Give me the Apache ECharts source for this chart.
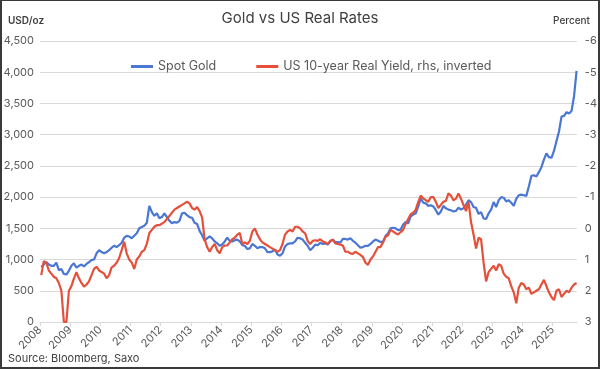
<!DOCTYPE html>
<html>
<head>
<meta charset="utf-8">
<script src="https://cdn.jsdelivr.net/npm/echarts@6/dist/echarts.min.js"></script>
<style>
html,body{margin:0;padding:0;background:#fff;}
#wrap{position:relative;width:600px;height:369px;}
#chart{position:absolute;left:0;top:0;width:600px;height:369px;}
#frame{position:absolute;left:0;top:0;width:600px;height:369px;box-sizing:border-box;border:2px solid #3a3a3a;border-top-width:1px;pointer-events:none;}
</style>
</head>
<body>
<div id="wrap"><div id="chart"></div><div id="frame"></div></div>
<script>
// ---- data (monthly, Jan 2008 .. Oct 2025) ----
const startYear = 2008;
const yearTicks = [2008,2009,2010,2011,2012,2013,2014,2015,2016,2017,2018,2019,2020,2021,2022,2023,2024,2025];
const goldUsdOz = [
  880,920,960,920,900,900,950,830,850,770,760,820,
  900,940,870,900,920,890,930,960,990,1000,1100,1150,
  1120,1100,1120,1150,1190,1220,1200,1230,1270,1350,1380,1370,
  1340,1380,1420,1500,1520,1540,1590,1860,1760,1700,1740,1660,
  1680,1740,1680,1620,1580,1600,1590,1620,1740,1750,1710,1680,
  1670,1590,1570,1460,1390,1300,1340,1370,1340,1290,1260,1220,
  1240,1290,1350,1300,1290,1310,1320,1290,1230,1220,1170,1180,
  1250,1220,1180,1200,1200,1180,1120,1120,1130,1160,1080,1060,
  1100,1210,1250,1260,1260,1290,1350,1340,1320,1270,1220,1150,
  1190,1240,1230,1270,1250,1260,1240,1290,1320,1280,1280,1270,
  1330,1330,1320,1340,1300,1270,1230,1190,1200,1220,1220,1250,
  1290,1320,1300,1280,1290,1380,1420,1500,1510,1500,1470,1480,
  1560,1600,1580,1690,1720,1740,1850,1980,1910,1900,1860,1870,
  1850,1790,1720,1770,1860,1820,1800,1790,1770,1780,1830,1800,
  1820,1880,1950,1920,1840,1830,1730,1760,1660,1650,1740,1800,
  1920,1840,1950,2000,1990,1930,1950,1910,1860,1970,2030,2040,
  2030,2020,2170,2340,2350,2330,2400,2480,2600,2700,2640,2630,
  2740,2900,3050,3290,3300,3360,3340,3380,3620,4020
];
const realYield10y = [
  1.5,1.05,1.1,1.35,1.45,1.55,1.6,1.75,2.0,3.0,3.0,2.0,
  1.85,1.6,1.4,1.6,1.75,1.87,1.8,1.7,1.5,1.3,1.23,1.35,
  1.4,1.45,1.6,1.5,1.25,1.2,1.1,0.95,0.7,0.43,0.8,1.0,
  1.1,1.3,1.0,0.9,0.75,0.7,0.5,0.15,0.05,-0.05,-0.1,-0.1,
  -0.15,-0.2,-0.3,-0.4,-0.5,-0.6,-0.65,-0.7,-0.75,-0.8,-0.85,-0.8,
  -0.65,-0.6,-0.68,-0.55,-0.35,0.35,0.6,0.75,0.6,0.5,0.7,0.8,
  0.6,0.55,0.55,0.45,0.35,0.3,0.2,0.15,0.5,0.45,0.5,0.4,
  0.1,0.0,0.2,0.35,0.45,0.5,0.55,0.6,0.65,0.7,0.75,0.7,
  0.5,0.2,0.1,0.05,0.1,-0.05,-0.05,0.0,0.1,0.16,0.4,0.5,
  0.4,0.38,0.4,0.35,0.42,0.45,0.5,0.4,0.37,0.48,0.5,0.52,
  0.55,0.75,0.75,0.8,0.82,0.75,0.8,0.85,0.92,1.1,1.17,1.0,
  0.9,0.75,0.6,0.6,0.45,0.27,0.22,0.05,0.1,0.16,0.2,0.12,
  0.05,-0.15,-0.3,-0.45,-0.5,-0.6,-0.85,-1.05,-0.96,-0.9,-0.85,-1.0,
  -1.0,-0.85,-0.65,-0.75,-0.85,-0.88,-1.12,-1.05,-0.9,-0.95,-1.12,-0.95,
  -0.75,-0.55,-0.85,-0.2,0.2,0.65,0.3,0.35,1.1,1.7,1.4,1.3,
  1.2,1.35,1.15,1.2,1.45,1.55,1.6,1.85,2.05,2.4,1.9,1.75,
  1.8,1.95,1.9,2.1,2.05,2.0,1.95,1.8,1.65,1.85,2.05,2.2,
  2.3,2.0,1.95,2.2,2.1,2.0,2.05,1.9,1.8,1.75
];
const leftTicks = {min: 0, max: 4500, step: 500};
const rightTicks = {min: -6, max: 3, step: 1};

// month index -> decimal year (mid-month)
function monthX(i){ return startYear + (i + 0.5) / 12; }
const goldData = goldUsdOz.map((v,i)=>[monthX(i), v]);
const yieldData = realYield10y.map((v,i)=>[monthX(i), v]);

const FONT = 'Inter, "Noto Sans", sans-serif';
const chart = echarts.init(document.getElementById('chart'), null, {renderer:'canvas'});
chart.setOption({
  animation: false,
  backgroundColor: '#ffffff',
  textStyle: {fontFamily: FONT},
  title: {
    text: 'Gold vs US Real Rates',
    left: 'center', top: 6,
    textStyle: {fontFamily: FONT, fontSize: 15, fontWeight: 'normal', color: '#404040'}
  },
  graphic: [
    {type:'text', left: 8, top: 16, style:{text:'USD/oz', font:'600 10px ' + FONT, fill:'#404040'}},
    {type:'text', right: 10, top: 16, style:{text:'Percent', font:'500 10px ' + FONT, fill:'#404040'}},
    {type:'text', left: 8, top: 353, style:{text:'Source: Bloomberg, Saxo', font:'11px ' + FONT, fill:'#404040'}}
  ],
  legend: {
    left: 126, top: 55,
    itemGap: 40, itemWidth: 22, itemHeight: 3, icon: 'rect',
    textStyle: {fontFamily: FONT, fontSize: 12.5, color: '#595959'},
    data: ['Spot Gold', 'US 10-year Real Yield, rhs, inverted']
  },
  grid: {left: 40, right: 22, top: 41, bottom: 47, containLabel: false},
  xAxis: {
    type: 'value', min: yearTicks[0], max: 2025.8, interval: 1,
    axisLine: {show: true, lineStyle: {color: '#d9d9d9'}},
    axisTick: {show: true, length: 4, lineStyle: {color: '#d9d9d9'}},
    splitLine: {show: false},
    axisLabel: {
      rotate: 45, fontSize: 11, color: '#595959', fontFamily: FONT, margin: 6,
      showMaxLabel: false,
      formatter: v => (yearTicks.indexOf(Math.round(v)) >= 0 && Math.abs(v - Math.round(v)) < 1e-6) ? String(Math.round(v)) : ''
    }
  },
  yAxis: [
    {
      type: 'value', min: leftTicks.min, max: leftTicks.max, interval: leftTicks.step,
      axisLine: {show: false}, axisTick: {show: false},
      splitLine: {show: true, lineStyle: {color: '#d9d9d9', width: 1}},
      axisLabel: {fontSize: 11, color: '#595959', fontFamily: FONT, margin: 6}
    },
    {
      type: 'value', min: rightTicks.min, max: rightTicks.max, interval: rightTicks.step, inverse: true,
      axisLine: {show: false}, axisTick: {show: false},
      splitLine: {show: false},
      axisLabel: {fontSize: 11, color: '#595959', fontFamily: FONT, margin: 8}
    }
  ],
  series: [
    {
      name: 'Spot Gold', type: 'line', data: goldData, yAxisIndex: 0,
      showSymbol: false, symbol: 'none',
      lineStyle: {color: '#4a76d4', width: 2.2}, itemStyle: {color: '#4a76d4'}
    },
    {
      name: 'US 10-year Real Yield, rhs, inverted', type: 'line', data: yieldData, yAxisIndex: 1,
      showSymbol: false, symbol: 'none',
      lineStyle: {color: '#e4503a', width: 2.2}, itemStyle: {color: '#e4503a'}
    }
  ]
});
</script>
</body>
</html>
